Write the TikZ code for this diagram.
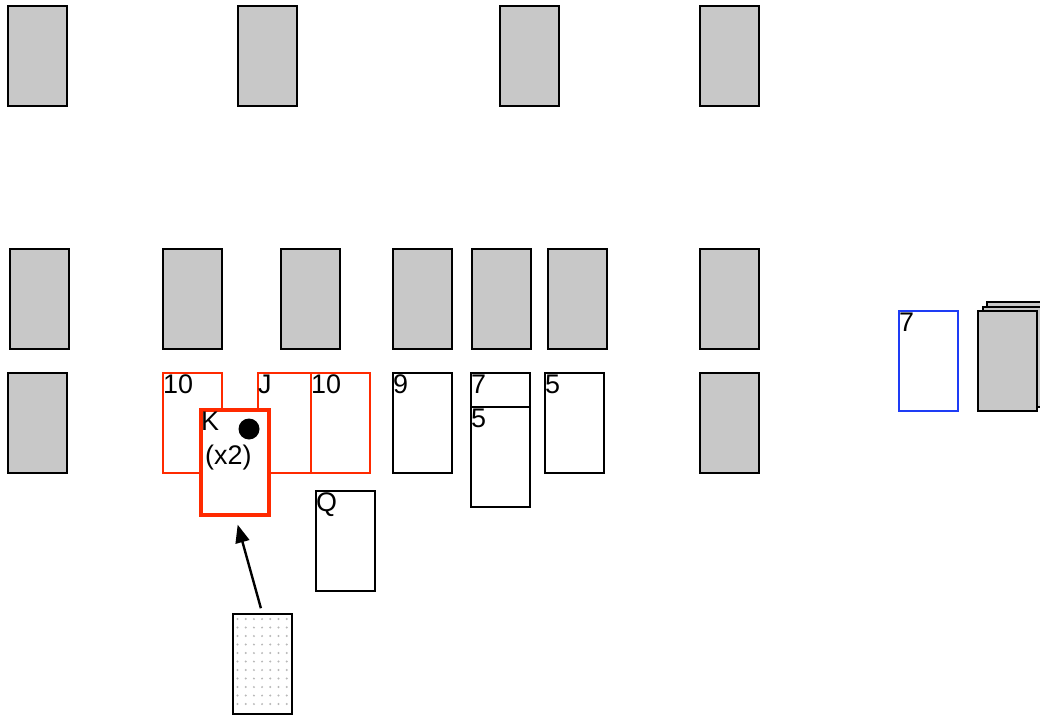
\documentclass[tikz,border=0pt]{standalone}
\usepackage{fontspec}
\setmainfont{Liberation Sans}
\usetikzlibrary{arrows.meta,calc}

\definecolor{cardgray}{HTML}{C8C8C8}
\definecolor{hotred}{HTML}{FF2A00}
\definecolor{pickblue}{HTML}{1E3CF5}
\definecolor{dotgray}{HTML}{B8B8B8}

\begin{document}
\begin{tikzpicture}[x=1bp,y=-1bp]
            \tikzstyle{card}=[draw,line width=2bp,fill=white,minimum width=59bp,
                              minimum height=100bp,anchor=north west,inner sep=0pt,outer sep=0pt];
            \tikzstyle{back}=[card,fill=cardgray];
            \tikzstyle{redcard}=[card,draw=hotred,line width=1.8bp];
            \tikzstyle{rank}=[label={[anchor=north west,inner sep=0pt,yshift=-1.5bp,font=\fontsize{27}{31}\selectfont]north west:#1}];
            \useasboundingbox (0,0) rectangle (1040,717);
            % top row
            \node[back] (t1) at (8,6) {};
            \node[back] (t2) at (238,6) {};
            \node[back] (t3) at (500,6) {};
            \node[back] (t4) at (700,6) {};
            % middle row
            \node[back] (m1) at (10,249) {};
            \node[back] (m2) at (163,249) {};
            \node[back] (m3) at (281,249) {};
            \node[back] (m4) at (393,249) {};
            \node[back] (m5) at (472,249) {};
            \node[back] (m6) at (548,249) {};
            \node[back] (m7) at (700,249) {};
            % face row
            \node[back] (b1) at (8,373) {};
            \node[redcard,rank=10] (ten1) at (163,373) {};
            \node[redcard,rank=J] (jack) at (258,373) {};
            \node[redcard,rank=10] (ten2) at (311,373) {};
            \node[card,rank=9] (nine) at (393,373) {};
            \node[card,rank=7] (seven) at (471,373) {};
            \node[card,rank=5] (fiveA) at (471,407) {};
            \node[card,rank=5] (fiveB) at (545,373) {};
            \node[back] (b2) at (700,373) {};
            \node[card,rank=Q] (queen) at (316,491) {};
            % picked card
            \node[card,draw=hotred,line width=4bp,minimum width=68bp,minimum height=105bp,rank=K] (king) at (201,410) {};
            \node[anchor=north west,inner sep=0pt,font=\fontsize{27}{31}\selectfont] (kcount) at (205,445) {(x2)};
            \node[circle,fill=black,minimum size=21bp,inner sep=0pt] (chip) at (249,429) {};
            % waste and stock
            \node[card,draw=pickblue,rank=7] (waste) at (899,311) {};
            \node[back] (stock3) at (987,302) {};
            \node[back] (stock2) at (982.5,306.5) {};
            \node[back] (stock) at (978,311) {};
            % hand
            \node[card] (hand) at (233,614) {};
            \foreach \i in {0,...,6}
              \foreach \j in {0,...,10}
                \fill[dotgray] ($(hand.north west)+(4.5+8.2*\i,5+8.5*\j)$) circle (1.1);
            \draw[-{Triangle[length=18bp,width=14bp]},line width=2.4bp,shorten <=6bp,shorten >=10bp] (hand.north) -- (king.south);
\end{tikzpicture}
\end{document}
